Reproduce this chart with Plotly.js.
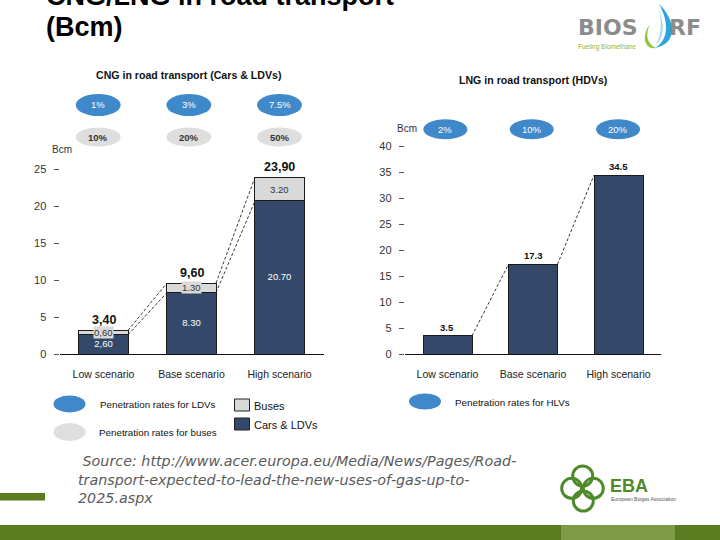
<!DOCTYPE html>
<html>
<head>
<meta charset="utf-8">
<script src="https://cdn.plot.ly/plotly-3.0.1.min.js"></script>
<style>html,body{margin:0;padding:0;background:#fff;}#chart{width:720px;height:540px;}</style>
</head>
<body>
<div id="chart"></div>
<script>
// ---------- data ----------
const scenarios = ['Low scenario', 'Base scenario', 'High scenario'];
const carsLdv = [2.6, 8.3, 20.7];
const buses = [0.6, 1.3, 3.2];
const carsLabels = ['2,60', '8.30', '20.70'];
const busLabels = ['0,60', '1.30', '3.20'];
const totalLabels = ['3,40', '9,60', '23,90'];
const hdvLng = [3.5, 17.3, 34.5];
const hdvLabels = ['3.5', '17.3', '34.5'];
const ldvRates = ['1%', '3%', '7.5%'];
const busRates = ['10%', '20%', '50%'];
const hdvRates = ['2%', '10%', '20%'];
const cngTicks = [0, 5, 10, 15, 20, 25];
const lngTicks = [0, 5, 10, 15, 20, 25, 30, 35, 40];

// ---------- helpers ----------
const W = 720, H = 540;
const P = x => x / W;
const Q = y => 1 - y / H;
const ARIAL = '"Liberation Sans", Arial, sans-serif';
const NAVY = '#34496a';
const LGRAY = '#d9d9d9';
const BLUE = '#3f88c9';
const EGRAY = '#dedede';
const GREEN = '#5b7c1e';

const cngTotals = carsLdv.map((v, i) => v + buses[i]);
const hwL = 0.557 / 2, hwR = 0.573 / 2;

// ---------- traces ----------
const traces = [
  {type: 'bar', x: scenarios, y: carsLdv, xaxis: 'x', yaxis: 'y', name: 'Cars & LDVs',
   marker: {color: NAVY, line: {color: '#1a1a1a', width: 1}}, width: 0.557, hoverinfo: 'none'},
  {type: 'bar', x: scenarios, y: buses, xaxis: 'x', yaxis: 'y', name: 'Buses',
   marker: {color: LGRAY, line: {color: '#1a1a1a', width: 1}}, width: 0.557, hoverinfo: 'none'},
  {type: 'scatter', mode: 'text', x: scenarios, y: carsLdv.map(v => v / 2), text: carsLabels,
   xaxis: 'x', yaxis: 'y', textfont: {family: ARIAL, size: 9.5, color: '#ffffff'}, hoverinfo: 'none', cliponaxis: false},
  {type: 'bar', x: scenarios, y: hdvLng, xaxis: 'x2', yaxis: 'y2', name: 'LNG HDVs',
   marker: {color: NAVY, line: {color: '#1a1a1a', width: 1}}, width: 0.573, hoverinfo: 'none'}
];

// ---------- annotations ----------
const ann = [];
function label(x, y, text, size, color, family, anchor) {
  ann.push({xref: 'paper', yref: 'paper', x: P(x), y: Q(y), xanchor: anchor || 'left', yanchor: 'middle',
    showarrow: false, text: text, font: {family: family || ARIAL, size: size, color: color || '#111'}});
}
// title (first line partially cut off at top, as in the slide)
label(44, -4, '<b>CNG/LNG in road transport</b>', 27, '#000');
label(44, 27, '<b>(Bcm)</b>', 27, '#000');
// subtitles
label(188, 75, '<b>CNG in road transport (Cars &amp; LDVs)</b>', 10.6, '#111', ARIAL, 'center');
label(533, 80, '<b>LNG in road transport (HDVs)</b>', 10.6, '#111', ARIAL, 'center');
// Bcm unit labels
label(50, 149, 'Bcm', 10, '#333');
label(395, 128, 'Bcm', 10, '#333');
// bus segment labels
buses.forEach((b, i) => {
  ann.push({xref: 'x', yref: 'y', x: scenarios[i], y: carsLdv[i] + b / 2, xanchor: 'center', yanchor: 'middle',
    showarrow: false, text: busLabels[i], bgcolor: LGRAY, borderpad: 0,
    font: {family: ARIAL, size: 9.5, color: '#333'}});
});
// totals
cngTotals.forEach((t, i) => {
  ann.push({xref: 'x', yref: 'y', x: scenarios[i], y: t, xanchor: 'center', yanchor: 'bottom', yshift: 1, showarrow: false,
    text: '<b>' + totalLabels[i] + '</b>', font: {family: ARIAL, size: 12.5, color: '#111'}});
});
hdvLng.forEach((t, i) => {
  ann.push({xref: 'x2', yref: 'y2', x: scenarios[i], y: t, xanchor: 'center', yanchor: 'bottom', yshift: 1, showarrow: false,
    text: '<b>' + hdvLabels[i] + '</b>', font: {family: ARIAL, size: 9.5, color: '#111'}});
});

// ---------- shapes ----------
const shapes = [];
function ellipse(xref, cx, cy, w, h, color) {
  shapes.push({type: 'circle', xref: xref, yref: 'paper', x0: cx - w / 2, x1: cx + w / 2,
    y0: Q(cy + h / 2), y1: Q(cy - h / 2), fillcolor: color, line: {width: 0}});
}
function ellLabel(xref, cx, cy, text, color) {
  ann.push({xref: xref, yref: 'paper', x: cx, y: Q(cy), xanchor: 'center', yanchor: 'middle', showarrow: false,
    text: text, font: {family: ARIAL, size: 9.5, color: color}});
}
ldvRates.forEach((r, i) => {
  const cx = i - 0.06 + 0.03 * i;
  ellipse('x', cx, 105, 0.51, 22, BLUE);
  ellLabel('x', cx, 105, r, '#ffffff');
});
busRates.forEach((r, i) => {
  const cx = i - 0.06 + 0.03 * i;
  ellipse('x', cx, 137, 0.51, 19, EGRAY);
  ellLabel('x', cx, 137, '<b>' + r + '</b>', '#333');
});
hdvRates.forEach((r, i) => {
  const cx = i - 0.025 + 0.01 * i;
  ellipse('x2', cx, 129.3, 0.515, 20, BLUE);
  ellLabel('x2', cx, 129.3, r, '#ffffff');
});
// dashed connectors
function dash(xref, yref, x0, y0, x1, y1) {
  shapes.push({type: 'line', xref: xref, yref: yref, x0: x0, y0: y0, x1: x1, y1: y1,
    line: {color: '#222', width: 0.9, dash: '3px,2px'}});
}
for (let i = 0; i < scenarios.length - 1; i++) {
  dash('x', 'y', i + hwL, cngTotals[i], i + 1 - hwL, cngTotals[i + 1]);
  dash('x', 'y', i + hwL, carsLdv[i], i + 1 - hwL, carsLdv[i + 1]);
  dash('x2', 'y2', i + hwR, hdvLng[i], i + 1 - hwR, hdvLng[i + 1]);
}

// legends (bottom)
function pEllipse(cx, cy, w, h, color) {
  shapes.push({type: 'circle', xref: 'paper', yref: 'paper', x0: P(cx - w / 2), x1: P(cx + w / 2),
    y0: Q(cy + h / 2), y1: Q(cy - h / 2), fillcolor: color, line: {width: 0}});
}
function pRect(x0, y0, x1, y1, color, lw, lc) {
  shapes.push({type: 'rect', xref: 'paper', yref: 'paper', x0: P(x0), x1: P(x1), y0: Q(y1), y1: Q(y0),
    fillcolor: color, line: {width: lw || 0, color: lc || color}});
}
pEllipse(69.5, 404, 32, 17, BLUE);
pEllipse(69.5, 432, 32, 18, EGRAY);
label(98, 404, 'Penetration rates for LDVs', 9.8);
label(97, 432, 'Penetration rates for buses', 9.8);
pRect(234.5, 399, 249.5, 411, LGRAY, 1, '#222');
pRect(234.5, 418, 249.5, 430, NAVY, 1, '#222');
label(252, 405.5, 'Buses', 11);
label(252, 424.5, 'Cars &amp; LDVs', 11);
pEllipse(425, 401.5, 32, 16, BLUE);
label(453, 402, 'Penetration rates for HLVs', 9.8);

// source text
ann.push({xref: 'paper', yref: 'paper', x: P(76), y: Q(451), xanchor: 'left', yanchor: 'top', align: 'left',
  showarrow: false,
  text: '<i> Source: http://www.acer.europa.eu/Media/News/Pages/Road-<br>transport-expected-to-lead-the-new-uses-of-gas-up-to-<br>2025.aspx</i>',
  font: {family: '"DejaVu Sans", sans-serif', size: 14.3, color: '#5a5a5a'}});

// green bars
pRect(0, 493, 45, 500.5, GREEN);
pRect(0, 525, 720, 540, GREEN);
pRect(561, 525, 675, 540, '#7d9a45');

// BIOSURF logo
label(576, 28, '<b>BIOS</b>', 22, '#8c8c8c', '"DejaVu Sans", sans-serif');
label(667, 28, '<b>RF</b>', 22, '#8c8c8c', '"DejaVu Sans", sans-serif');
label(576, 47, 'Fueling Biomethane', 6.5, '#8fb43a', ARIAL);
function pth(d, color) {
  shapes.push({type: 'path', xref: 'paper', yref: 'paper', path: d, fillcolor: color, line: {width: 0}});
}
function toPath(pts) {
  return pts.map(c => c[0] + ' ' + c.slice(1).map((v, k) => (k % 2 === 0 ? P(v) : Q(v)).toFixed(5)).join(',')).join(' ') + ' Z';
}
pth(toPath([['M', 659, 4], ['C', 676, 20, 678, 44, 655, 48], ['C', 669, 40, 669, 22, 659, 4]]), '#2fa3dc');
pth(toPath([['M', 659, 10], ['C', 664, 22, 665, 36, 656, 45], ['C', 662, 34, 662, 22, 659, 10]]), '#9fd4f0');
pth(toPath([['M', 650, 24], ['C', 640, 38, 646, 50, 656, 48], ['C', 647, 44, 645, 35, 650, 24]]), '#8cc63f');

// EBA logo
const knot = [[582.7, 476], [571.7, 488.3], [593.3, 488.3], [583.3, 501]];
knot.forEach(c => {
  shapes.push({type: 'circle', xref: 'paper', yref: 'paper', x0: P(c[0] - 10), x1: P(c[0] + 10),
    y0: Q(c[1] + 10), y1: Q(c[1] - 10), line: {color: '#4f8a2a', width: 3}});
});
label(608, 486, '<b>EBA</b>', 18, '#4f8a2a', ARIAL);
label(609, 499, 'European Biogas Association', 5, '#555', ARIAL);

// ---------- layout ----------
const axisFont = {family: ARIAL, size: 11, color: '#333'};
const catFont = {family: ARIAL, size: 10.5, color: '#222'};
const layout = {
  width: W, height: H,
  margin: {l: 0, r: 0, t: 0, b: 0},
  paper_bgcolor: '#ffffff', plot_bgcolor: 'rgba(0,0,0,0)',
  showlegend: false, barmode: 'stack',
  font: {family: ARIAL},
  xaxis: {domain: [P(59.5), P(323.5)], anchor: 'y', type: 'category', range: [-0.5, 2.5],
    showline: true, linecolor: '#111', linewidth: 1.3, ticks: '', showgrid: false, zeroline: false,
    tickfont: catFont, ticklabelstandoff: 10, fixedrange: true},
  yaxis: {domain: [Q(354), Q(147)], anchor: 'x', range: [0, 28], tickvals: cngTicks,
    ticks: 'outside', ticklen: 5, tickwidth: 1, tickcolor: '#555', showline: false, showgrid: false,
    zeroline: false, tickfont: axisFont, ticklabelstandoff: 5, fixedrange: true},
  xaxis2: {domain: [P(404.75), P(661.25)], anchor: 'y2', type: 'category', range: [-0.5, 2.5],
    showline: true, linecolor: '#111', linewidth: 1.3, ticks: '', showgrid: false, zeroline: false,
    tickfont: catFont, ticklabelstandoff: 10, fixedrange: true},
  yaxis2: {domain: [Q(354), Q(146.6)], anchor: 'x2', range: [0, 40], tickvals: lngTicks,
    ticks: 'outside', ticklen: 5, tickwidth: 1, tickcolor: '#555', showline: false, showgrid: false,
    zeroline: false, tickfont: axisFont, ticklabelstandoff: 5, fixedrange: true},
  annotations: ann,
  shapes: shapes
};

Plotly.newPlot('chart', traces, layout, {displayModeBar: false, staticPlot: true});
</script>
</body>
</html>
